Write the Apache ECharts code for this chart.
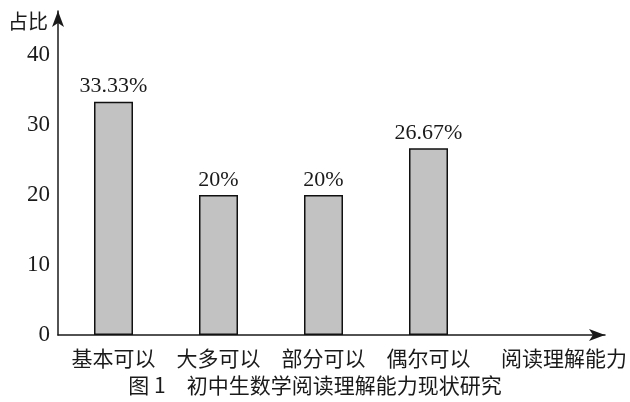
<!DOCTYPE html>
<html><head><meta charset="utf-8">
<script src="https://cdn.jsdelivr.net/npm/echarts@6/dist/echarts.min.js"></script>
<style>html,body{margin:0;padding:0;background:#fff}#c{width:630px;height:402px}</style>
</head><body><div id="c"></div>
<script>
var categories = ['基本可以', '大多可以', '部分可以', '偶尔可以'];
var values = [33.33, 20, 20, 26.67];
var valueLabels = ['33.33%', '20%', '20%', '26.67%'];
var yTicks = [0, 10, 20, 30, 40];
var yName = '占比';
var xName = '阅读理解能力';
var caption = '图 1　初中生数学阅读理解能力现状研究';

var serif = '"Liberation Serif", "Noto Sans CJK SC", serif';
var cjk = '"Noto Sans CJK SC", "Liberation Serif", serif';
var ink = '#1a1a1a';
var TOP = 11, BOTTOM = 67;
var YMAX = 40 * (402 - BOTTOM - TOP) / 280;

var chart = echarts.init(document.getElementById('c'), null, {renderer: 'canvas'});
chart.setOption({
  animation: false,
  backgroundColor: '#fff',
  title: {
    text: caption, left: 'center', top: 370,
    textStyle: {fontFamily: cjk, fontSize: 21, fontWeight: 'normal', color: ink}
  },
  grid: [
    {left: 58, right: 25, top: TOP, bottom: BOTTOM},
    {left: 61, right: 149, top: TOP, bottom: BOTTOM}
  ],
  xAxis: [
    {
      type: 'value', gridIndex: 0, min: 0, max: 1,
      axisLine: {show: true, lineStyle: {color: ink, width: 1.5}, symbol: ['none', 'arrow'], symbolSize: [9, 16]},
      axisTick: {show: false}, axisLabel: {show: false}, splitLine: {show: false},
      name: xName, nameLocation: 'end', nameGap: 22,
      nameTextStyle: {fontFamily: cjk, fontSize: 21, color: ink, align: 'right', verticalAlign: 'top', padding: [13, 0, 0, 0]}
    },
    {
      type: 'category', gridIndex: 1, data: categories,
      axisLine: {show: false}, axisTick: {show: false},
      axisLabel: {interval: 0, hideOverlap: false, fontFamily: cjk, fontSize: 21, color: ink, margin: 13}
    }
  ],
  yAxis: [
    {
      type: 'value', gridIndex: 0, min: 0, max: YMAX, interval: 10,
      axisLine: {show: true, lineStyle: {color: ink, width: 1.5}, symbol: ['none', 'arrow'], symbolSize: [9, 16]},
      axisTick: {show: false}, splitLine: {show: false},
      axisLabel: {
        fontFamily: serif, fontSize: 23, color: ink, margin: 8,
        formatter: function (v) { return yTicks.indexOf(v) >= 0 ? String(v) : ''; }
      },
      name: yName, nameLocation: 'end', nameGap: -10,
      nameTextStyle: {fontFamily: cjk, fontSize: 20, color: ink, align: 'right', verticalAlign: 'middle', padding: [0, 10, 0, 0]}
    },
    {type: 'value', gridIndex: 1, min: 0, max: YMAX, show: false}
  ],
  series: [{
    type: 'bar', xAxisIndex: 1, yAxisIndex: 1,
    data: values, barWidth: 39,
    itemStyle: {color: '#c2c2c2', borderColor: '#111', borderWidth: 1.5},
    label: {
      show: true, position: 'top', distance: 4,
      fontFamily: serif, fontSize: 22, color: ink,
      formatter: function (p) { return valueLabels[p.dataIndex]; }
    }
  }]
});
</script></body></html>
